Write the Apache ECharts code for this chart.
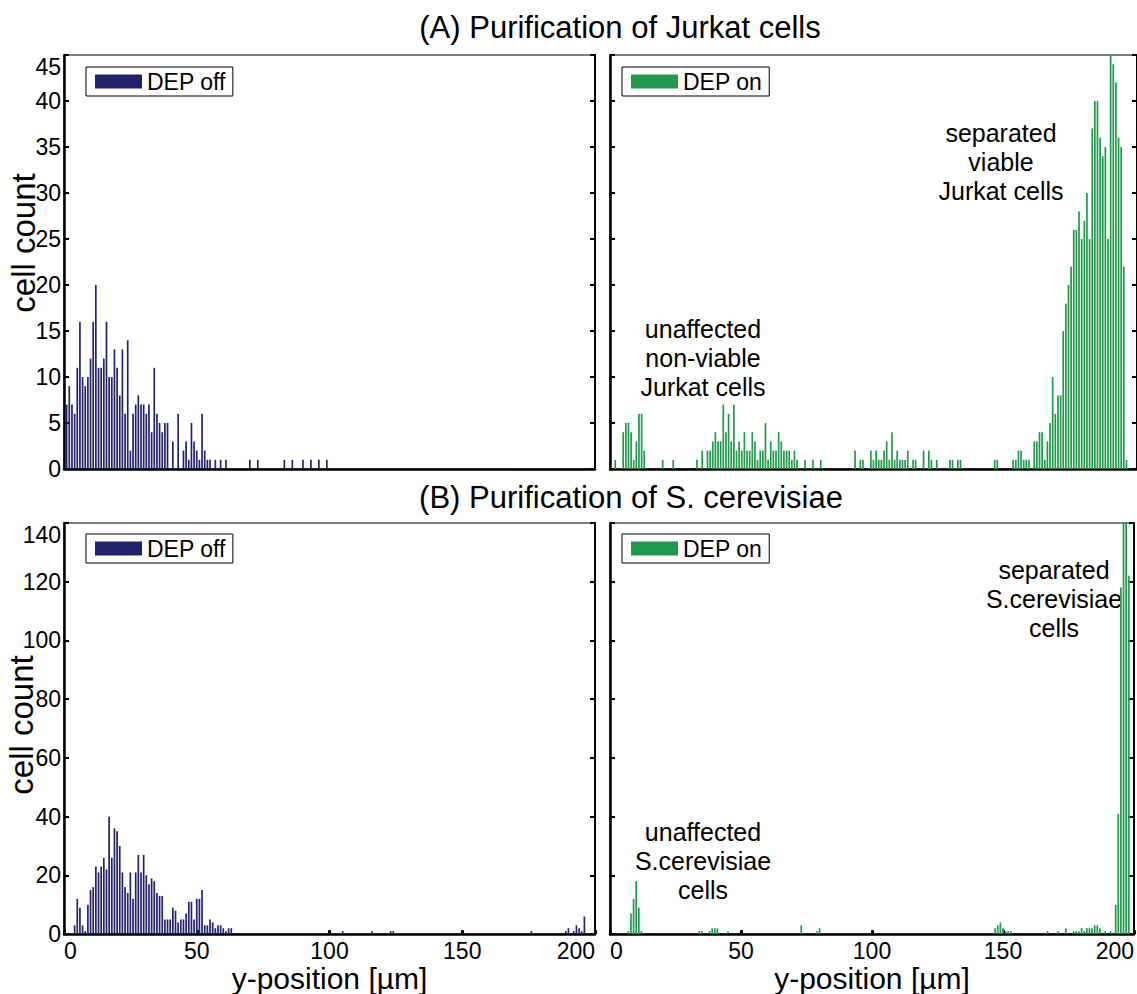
<!DOCTYPE html>
<html><head><meta charset="utf-8">
<script src="https://cdn.jsdelivr.net/npm/echarts@6/dist/echarts.min.js"></script>
<style>html,body{margin:0;padding:0;background:#fff}#c{width:1137px;height:994px}</style>
</head><body><div id="c"></div>
<script>
// ---------------- data (histogram bins in µm, cell counts) ----------------
const jurkatOffBins = [1,2,3,4,5,6,7,8,9,10,11,12,13,14,15,16,17,18,19,20,21,22,23,24,25,26,27,28,29,30,
  31,32,33,34,35,36,37,38,39,40,41,42,43,44,45,46,47,48,49,50,51,52,53,54,55,56,57,58,59,60,61,
  70,73,83,86,90,93,96,99];
const jurkatOffCounts = [7,9,7,6,11,16,10,9,10,12,16,20,11,11,12,16,10,10,13,11,8,13,6,14,2,6,7,8,7,7,
  6,7,4,11,6,5,4,5,5,0,3,0,6,0,2,3,1,5,3,2,1,6,2,1,1,0,1,0,1,0,1,
  1,1,1,1,1,1,1,1];

const jurkatOnBins = [2,5,6,7,8,9,10,11,12,13,20,24,33,35,37,38,39,40,41,42,
  43,44,45,46,47,48,49,50,51,52,53,54,55,56,57,58,59,60,61,62,63,64,65,66,67,68,69,70,71,74,
  77,80,93,95,96,99,100,101,102,103,104,105,106,107,108,109,110,111,112,113,
  115,116,119,121,122,124,129,130,132,133,146,147,153,154,155,156,157,158,159,161,
  162,163,164,165,166,167,168,169,170,171,172,173,174,175,176,177,178,179,180,181,
  182,183,184,185,186,187,188,189,190,191,192,193,194,195,196];
const jurkatOnCounts = [1,4,5,5,4,1,3,6,6,2,1,1,1,2,2,2,3,4,3,3,
  7,4,6,3,7,2,3,2,4,2,2,4,3,1,2,2,5,1,3,2,2,4,3,2,2,2,1,2,1,1,
  1,1,2,1,1,2,1,2,1,1,2,3,1,4,1,2,1,1,1,2,
  1,1,2,2,1,1,1,1,1,1,1,1,1,1,2,2,1,1,1,3,
  3,4,4,1,3,5,10,6,8,8,15,18,20,22,26,26,28,25,27,30,
  25,37,40,40,36,34,35,25,45,44,42,36,35,22,1];

const yeastOffBins = [4,5,6,7,8,9,10,11,12,13,14,15,16,17,18,19,20,21,22,23,24,25,26,27,28,29,30,31,32,33,
  34,35,36,37,38,39,40,41,42,43,44,45,46,47,48,49,50,51,52,53,54,55,56,57,58,59,60,61,62,63,
  105,116,123,124,176,189,190,192,193,194,195,196];
const yeastOffCounts = [3,12,9,3,1,10,15,16,23,21,23,26,22,40,26,36,35,30,21,16,14,21,12,21,27,21,27,20,17,19,
  18,14,13,13,5,5,5,9,8,4,5,5,7,11,11,5,12,12,15,3,3,5,4,2,3,3,2,1,2,2,
  1,1,1,1,1,1,2,1,3,2,1,6];

const yeastOnBins = [7,8,9,10,11,12,34,35,38,39,40,41,45,73,79,80,147,148,149,150,151,152,153,
  167,171,174,177,178,179,180,181,182,183,184,185,186,187,189,191,193,194,195,196,197,198];
const yeastOnCounts = [1,7,12,18,9,1,1,1,1,2,2,2,1,3,1,2,2,3,4,2,1,1,1,
  1,1,2,1,1,1,2,1,2,2,2,3,3,2,1,1,10,41,118,160,150,122];

const xTicks = [0, 50, 100, 150, 200];
const yTicksA = [0, 5, 10, 15, 20, 25, 30, 35, 40, 45];
const yTicksB = [0, 20, 40, 60, 80, 100, 120, 140];
const seriesNames = ['DEP off', 'DEP on', 'DEP off', 'DEP on'];
const titles = ['(A) Purification of Jurkat cells', '(B) Purification of S. cerevisiae'];
const notes = ['separated\nviable\nJurkat cells', 'unaffected\nnon-viable\nJurkat cells',
               'separated\nS.cerevisiae\ncells', 'unaffected\nS.cerevisiae\ncells'];
// --------------------------------------------------------------------------

const FONT = '"Liberation Sans", Arial, Helvetica, sans-serif';
const NAVY = '#23236b', GREEN = '#1f9a4a';
const pairs = (b, c) => b.map((x, i) => [x, c[i]]);
const data = [pairs(jurkatOffBins, jurkatOffCounts), pairs(jurkatOnBins, jurkatOnCounts),
              pairs(yeastOffBins, yeastOffCounts), pairs(yeastOnBins, yeastOnCounts)];
const colors = [NAVY, GREEN, NAVY, GREEN];

const gridPos = [
  {left: 64, top: 55, width: 531, height: 414},
  {left: 610, top: 55, width: 531, height: 414},
  {left: 64, top: 523, width: 531, height: 418},
  {left: 610, top: 523, width: 531, height: 418}
];
const grid = gridPos.map(g => Object.assign({show: true, borderColor: '#555', borderWidth: 1.5, containLabel: false}, g));

const xAxis = [], yAxis = [], series = [], legend = [];
for (let i = 0; i < 4; i++) {
  const bottomRow = i >= 2, leftCol = i % 2 === 0;
  const yt = bottomRow ? yTicksB : yTicksA;
  xAxis.push({
    gridIndex: i, type: 'value', min: xTicks[0], max: xTicks[xTicks.length - 1], interval: xTicks[1] - xTicks[0],
    position: 'bottom',
    axisLine: {show: true, onZero: false, lineStyle: {color: '#000', width: 2.5}},
    axisTick: {show: bottomRow, inside: true, length: 4, lineStyle: {color: '#000', width: 3}},
    axisLabel: {show: bottomRow, fontSize: 23, color: '#000', fontFamily: FONT, margin: 5,
                alignMinLabel: 'left', alignMaxLabel: 'right'},
    splitLine: {show: false},
    name: bottomRow ? 'y-position [µm]' : '', nameLocation: 'middle', nameGap: 27,
    nameTextStyle: {fontSize: 30, color: '#000', fontFamily: FONT}
  });
  const yBase = {
    gridIndex: i, type: 'value', min: yt[0], max: yt[yt.length - 1], interval: yt[1] - yt[0],
    splitLine: {show: false},
    axisTick: {show: true, inside: true, length: 5, lineStyle: {color: '#000', width: 2}}
  };
  yAxis.push(Object.assign({}, yBase, {
    position: 'left',
    axisLine: {show: true, onZero: false, lineStyle: {color: '#000', width: 2.5}},
    axisLabel: {show: leftCol, fontSize: 23, color: '#000', fontFamily: FONT, margin: 3,
                verticalAlignMaxLabel: 'top'}
  }));
  yAxis.push(Object.assign({}, yBase, {
    position: 'right',
    axisLine: {show: true, onZero: false, lineStyle: {color: '#000', width: 2}},
    axisLabel: {show: false}
  }));
  series.push({
    type: 'bar', name: seriesNames[i], xAxisIndex: i, yAxisIndex: 2 * i,
    data: data[i], barWidth: 1.7, clip: true,
    itemStyle: {color: colors[i]}, emphasis: {disabled: true}, silent: true
  });
  legend.push({
    data: [seriesNames[i]], left: leftCol ? 86 : 622, top: bottomRow ? 534 : 67,
    icon: 'rect', itemWidth: 47, itemHeight: 14, padding: [3, 7, 3, 9],
    borderColor: '#000', borderWidth: 1, backgroundColor: '#fff', selectedMode: false,
    itemStyle: {color: colors[i]},
    textStyle: {fontSize: 23, color: '#000', fontFamily: FONT}
  });
}

function txt(text, x, y, size, rot) {
  return {type: 'text', x: x, y: y, rotation: rot || 0, silent: true,
    style: {text: text, font: size + 'px ' + FONT, fill: '#000', lineHeight: 29,
            align: 'center', verticalAlign: 'middle', textAlign: 'center', textVerticalAlign: 'middle'}};
}

const chart = echarts.init(document.getElementById('c'), null, {renderer: 'svg'});
chart.setOption({
  animation: false,
  backgroundColor: '#fff',
  grid: grid, xAxis: xAxis, yAxis: yAxis, series: series, legend: legend,
  graphic: [
    txt(titles[0], 620, 27, 31),
    txt(titles[1], 631, 497, 31),
    txt('cell count', 23, 243, 33, Math.PI / 2),
    txt('cell count', 21, 725, 33, Math.PI / 2),
    txt(notes[0], 1001, 162, 25),
    txt(notes[1], 703, 358, 25),
    txt(notes[2], 1054, 599, 25),
    txt(notes[3], 703, 861, 25)
  ]
});
</script></body></html>
